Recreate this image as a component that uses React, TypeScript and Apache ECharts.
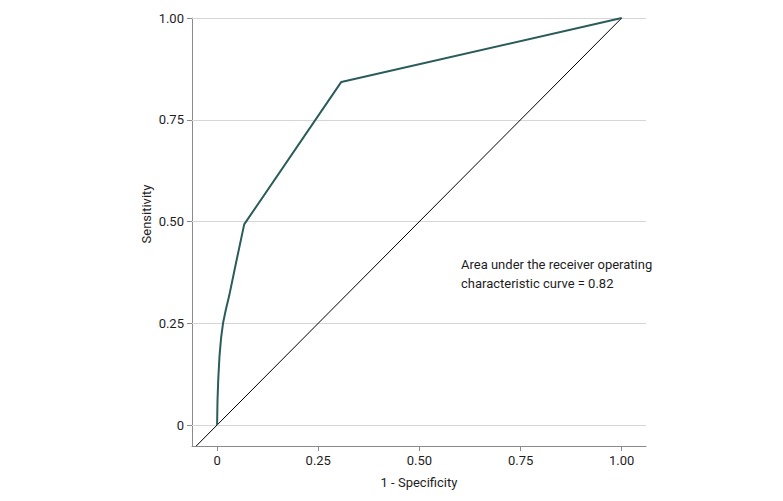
import React, { useEffect, useRef } from "react";
import * as echarts from "echarts";

const rocX = [0, 0.001, 0.003, 0.006, 0.01, 0.015, 0.022, 0.03, 0.045, 0.067, 0.307, 1];
const rocY = [0, 0.06, 0.115, 0.17, 0.215, 0.252, 0.285, 0.318, 0.39, 0.493, 0.843, 1];
const diagX = [-0.052, 1];
const diagY = [-0.052, 1];
const tickValues = [0, 0.25, 0.5, 0.75, 1];
const aucText = "Area under the receiver operating\ncharacteristic curve = 0.82";

const FONT = "Roboto";
const TXT = "#1e1e1e";
const fmt = (v: number) => (v === 0 ? "0" : v.toFixed(2));

export default function App() {
  const ref = useRef<HTMLDivElement>(null);
  useEffect(() => {
    if (!ref.current) return;
    const chart = echarts.init(ref.current, undefined, { renderer: "svg" });
    const axisCommon = {
      type: "value" as const,
      axisLine: { show: true, onZero: false, lineStyle: { color: "#8a8a8a", width: 1 } },
      axisTick: { show: true, length: 5, customValues: tickValues, lineStyle: { color: "#8a8a8a" } },
      axisLabel: { customValues: tickValues, formatter: fmt, color: TXT, fontFamily: FONT, fontSize: 13, margin: 8 },
      splitLine: { show: false },
    };
    chart.setOption({
      animation: false,
      grid: { left: 192, right: 137, top: 18, bottom: 55 },
      xAxis: {
        ...axisCommon,
        min: -0.062,
        max: 1.06,
        name: "1 - Specificity",
        nameLocation: "middle",
        nameGap: 30,
        nameTextStyle: { color: TXT, fontFamily: FONT, fontSize: 13 },
      },
      yAxis: {
        ...axisCommon,
        min: -0.0515,
        max: 1,
      },
      graphic: [
        {
          type: "text",
          x: 146,
          y: 214,
          rotation: Math.PI / 2,
          style: {
            text: "Sensitivity",
            fill: TXT,
            font: `13px "${FONT}"`,
            align: "center",
            verticalAlign: "middle",
          },
        },
        {
          type: "text",
          x: 461,
          y: 255,
          style: {
            text: aucText,
            fill: TXT,
            font: `13px "${FONT}"`,
            lineHeight: 19,
            align: "left",
            verticalAlign: "top",
          },
        },
      ],
      series: [
        {
          type: "line",
          data: diagX.map((x, i) => [x, diagY[i]]),
          showSymbol: false,
          symbol: "none",
          lineStyle: { color: "#000", width: 1 },
          z: 3,
          markLine: {
            silent: true,
            symbol: "none",
            label: { show: false },
            lineStyle: { color: "#d6d6d6", width: 1, type: "solid" },
            data: tickValues.map((v) => ({ yAxis: v })),
            z: 1,
          },
        },
        {
          type: "line",
          data: rocX.map((x, i) => [x, rocY[i]]),
          showSymbol: false,
          symbol: "none",
          lineStyle: { color: "#2a5c5b", width: 2 },
          z: 4,
        },
      ],
    });
    return () => chart.dispose();
  }, []);
  return <div ref={ref} style={{ width: 783, height: 501, position: "absolute", left: 0, top: 0 }} />;
}
